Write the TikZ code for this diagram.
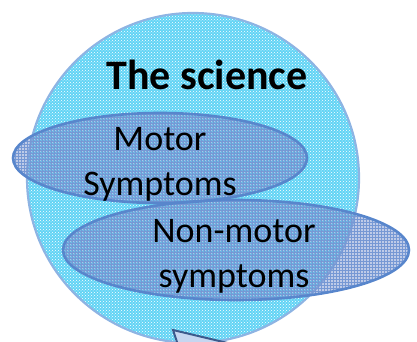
\documentclass[tikz,border=0pt]{standalone}
\usepackage{fontspec}
\setmainfont{Carlito}
\usetikzlibrary{patterns}
\definecolor{rim}{RGB}{142,180,227}
\definecolor{cyanfill}{RGB}{98,212,245}
\definecolor{ovalrim}{RGB}{88,134,204}
\definecolor{ovalfill}{RGB}{110,140,205}
\definecolor{ovalgridc}{RGB}{118,152,212}
\definecolor{tipfill}{RGB}{198,214,240}
\definecolor{tiprim}{RGB}{60,90,140}
\tikzset{
  oval/.style={fill=ovalfill, fill opacity=0.45},
  ovalgrid/.style={pattern=grid, pattern color=ovalgridc},
  ovalline/.style={draw=ovalrim, line width=2.6pt},
  label/.style={font=\fontsize{36}{45}\selectfont, align=center, inner sep=0pt}
}
\begin{document}
\begin{tikzpicture}[x=1pt, y=-1pt]
\useasboundingbox (0,0) rectangle (417,342);
% big circle
\fill[cyanfill] (193,178) ellipse [x radius=166, y radius=165];
\fill[pattern=crosshatch dots, pattern color=white] (193,178) ellipse [x radius=166, y radius=165];
\draw[rim, line width=2.2pt] (193,178) ellipse [x radius=166, y radius=165];
% ovals
\fill[oval] (160,158) ellipse [x radius=147, y radius=45];
\fill[ovalgrid] (160,158) ellipse [x radius=147, y radius=45];
\fill[oval] (236,250) ellipse [x radius=173, y radius=50];
\fill[ovalgrid] (236,250) ellipse [x radius=173, y radius=50];
\draw[ovalline] (160,158) ellipse [x radius=147, y radius=45];
\draw[ovalline] (236,250) ellipse [x radius=173, y radius=50];
% texts
\node[anchor=base, inner sep=0pt, font=\fontsize{42}{50}\selectfont\bfseries] (science) at (207,90) {The science};
\node[label] (motor) at (160,164) {Motor\\Symptoms};
\node[label] (nonmotor) at (234,256) {Non-motor\\symptoms};
% pointer
\filldraw[fill=tipfill, draw=tiprim, line width=2pt] (178,345) -- (173,330) -- (236,345);
\end{tikzpicture}
\end{document}
